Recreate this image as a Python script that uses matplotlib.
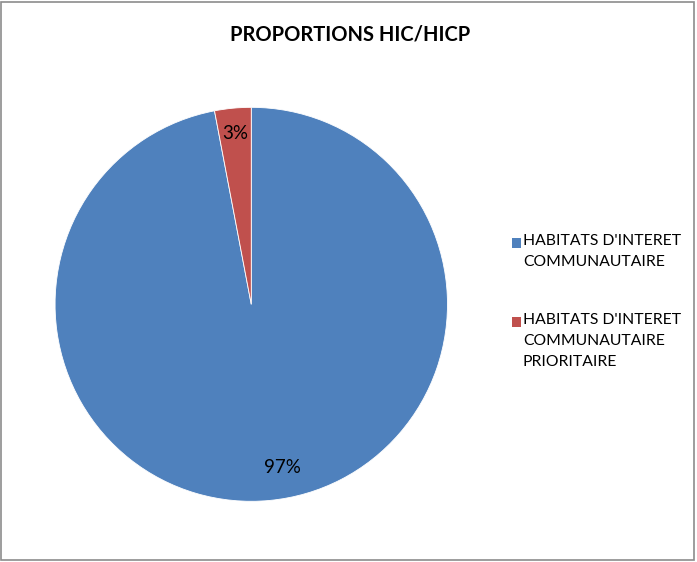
import matplotlib.pyplot as plt
from matplotlib.patches import Rectangle

# data
labels = ["HABITATS D'INTERET\nCOMMUNAUTAIRE",
          "HABITATS D'INTERET\nCOMMUNAUTAIRE\nPRIORITAIRE"]
values = [97, 3]
colors = ["#4F81BD", "#C0504D"]
title = "PROPORTIONS HIC/HICP"

plt.rcParams['font.family'] = ['Lato', 'DejaVu Sans']

W, H = 697, 562
fig = plt.figure(figsize=(W / 100, H / 100), dpi=100)
ax = fig.add_axes([0.079, 0.108, 0.563, 0.701])

wedges, texts, autotexts = ax.pie(values, colors=colors, startangle=90, counterclock=False,
                                  autopct='%1.0f%%', pctdistance=0.87,
                                  wedgeprops=dict(edgecolor='white', linewidth=0.6),
                                  textprops=dict(fontsize=13.5, color='black'))
ax.set_aspect('auto')
ax.set_xlim(-1, 1)
ax.set_ylim(-1, 1)
# excel puts the big label a bit right of the slice middle
autotexts[0].set_position((0.16, -0.83))

fig.text(0.502, 0.938, title, ha='center', va='center', fontsize=14.5, fontweight='bold')

# legend drawn by hand so the spacing follows the original
leg_top = [243, 322]   # pixel y of the first line of each entry
for lab, col, yp in zip(labels, colors, leg_top):
    fig.patches.append(Rectangle((512 / W, 1 - (yp + 5) / H), 9 / W, 10 / H,
                                 transform=fig.transFigure, facecolor=col, edgecolor='none'))
    fig.text(523 / W, 1 - (yp - 9) / H, lab, ha='left', va='top', fontsize=11.3,
             linespacing=1.65)

# outer border of the chart area
fig.patches.append(Rectangle((0.002, 0.004), 0.994, 0.992, transform=fig.transFigure,
                             fill=False, edgecolor='#8c8c8c', linewidth=1.2))

fig.savefig('out.png', dpi=100)
